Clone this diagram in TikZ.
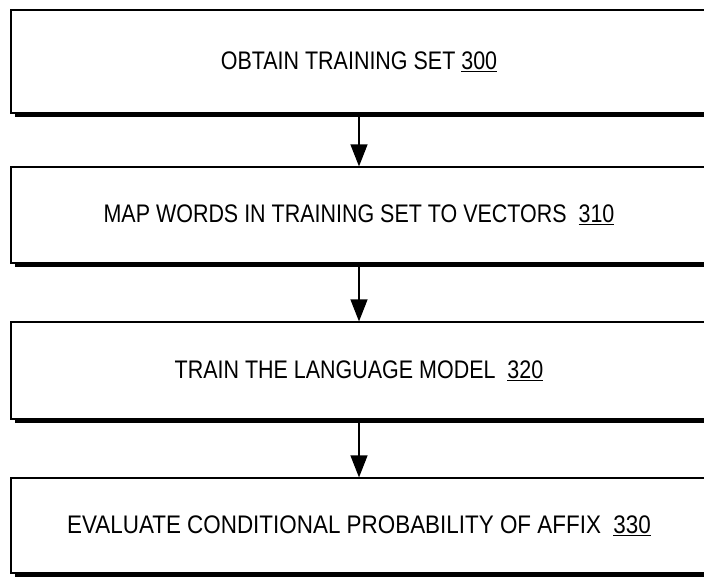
\documentclass[tikz,border=0pt]{standalone}
\usepackage{fontspec}
\setmainfont{Liberation Sans}[FakeStretch=0.845]
\usepackage{tikz}
\usetikzlibrary{arrows.meta, shadows}
\tikzstyle{stage}=[rectangle, draw, line width=1.2pt, fill=white, minimum width=696pt,
    font=\fontsize{25.4}{28}\selectfont, inner sep=0pt,
    drop shadow={shadow xshift=4pt, shadow yshift=-3.5pt, fill=black, opacity=1}]
\tikzstyle{flow}=[line width=1.2pt, -{Triangle[width=17pt, length=22pt]}]
\newcommand{\stage}{\node[stage]}

\begin{document}
\begin{tikzpicture}[x=1pt, y=-1pt]
                    \useasboundingbox (0,0) rectangle (704,578);
                    \stage (s300) at (359,61.5) [minimum height=103pt]{OBTAIN TRAINING SET \underline{300}};
                    \stage (s310) at (359,215) [minimum height=96pt]{MAP WORDS IN TRAINING SET TO VECTORS\ \ \underline{310}};
                    \stage (s320) at (359,370.5) [minimum height=97pt]{TRAIN THE LANGUAGE MODEL\ \ \underline{320}};
                    \stage (s330) at (359,525.5) [minimum height=95pt]{\scalebox{1.045}[1]{EVALUATE CONDITIONAL PROBABILITY OF AFFIX\ \ \underline{330}}};
                    \path[flow]
                        (s300) edge (s310)
                        (s310) edge (s320)
                        (s320) edge (s330)
                    ;
                \end{tikzpicture}
\end{document}
